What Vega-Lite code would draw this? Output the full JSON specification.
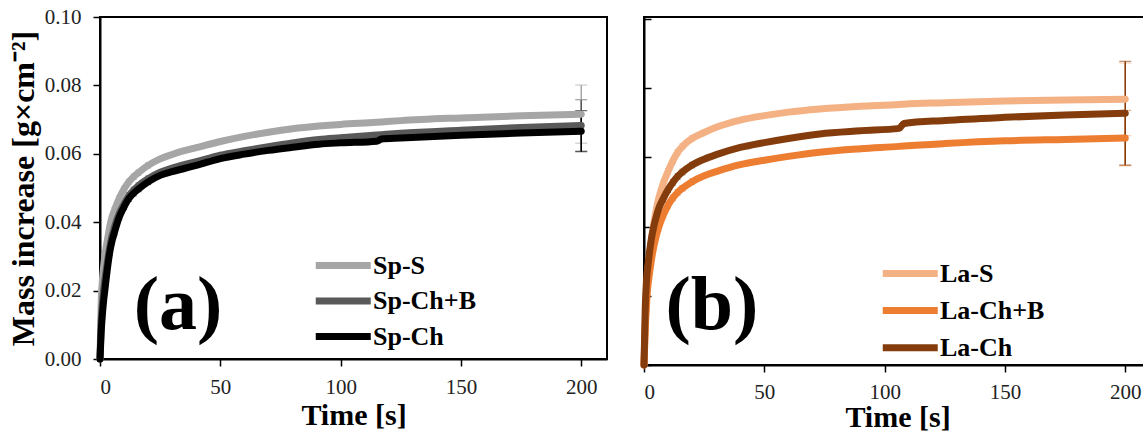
{
  "$schema": "https://vega.github.io/schema/vega-lite/v6.json",
  "padding": {"left": 6, "top": 5, "right": 0, "bottom": 0},
  "background": "white",
  "datasets": {
    "left": [
      {"s":"Sp-S","t":0,"v":0},{"s":"Sp-S","t":0.5,"v":0.017},{"s":"Sp-S","t":1,"v":0.023,"err":0.0008},{"s":"Sp-S","t":1.5,"v":0.027},{"s":"Sp-S","t":2,"v":0.030,"err":0.0008},{"s":"Sp-S","t":3,"v":0.0345,"err":0.0008},{"s":"Sp-S","t":4,"v":0.0385,"err":0.0008},{"s":"Sp-S","t":5,"v":0.0415,"err":0.0008},{"s":"Sp-S","t":6,"v":0.0435,"err":0.0008},{"s":"Sp-S","t":8,"v":0.047,"err":0.0008},{"s":"Sp-S","t":10,"v":0.0497,"err":0.0008},{"s":"Sp-S","t":12,"v":0.0518,"err":0.0008},{"s":"Sp-S","t":14,"v":0.0533,"err":0.0008},{"s":"Sp-S","t":16,"v":0.0545,"err":0.0008},{"s":"Sp-S","t":20,"v":0.0566,"err":0.0008},{"s":"Sp-S","t":25,"v":0.0585},{"s":"Sp-S","t":30,"v":0.0598},{"s":"Sp-S","t":35,"v":0.0609},{"s":"Sp-S","t":40,"v":0.0618},{"s":"Sp-S","t":50,"v":0.0636},{"s":"Sp-S","t":60,"v":0.0651},{"s":"Sp-S","t":70,"v":0.0663},{"s":"Sp-S","t":80,"v":0.0673},{"s":"Sp-S","t":91,"v":0.0681},{"s":"Sp-S","t":100,"v":0.0686},{"s":"Sp-S","t":115,"v":0.0692},{"s":"Sp-S","t":117,"v":0.0693},{"s":"Sp-S","t":125,"v":0.0697},{"s":"Sp-S","t":150,"v":0.0705},{"s":"Sp-S","t":175,"v":0.0711},{"s":"Sp-S","t":200,"v":0.0716,"err":0.0085},
      {"s":"Sp-Ch+B","t":0,"v":0},{"s":"Sp-Ch+B","t":0.5,"v":0.011},{"s":"Sp-Ch+B","t":1,"v":0.016,"err":0.0008},{"s":"Sp-Ch+B","t":1.5,"v":0.020},{"s":"Sp-Ch+B","t":2,"v":0.023,"err":0.0008},{"s":"Sp-Ch+B","t":3,"v":0.028,"err":0.0008},{"s":"Sp-Ch+B","t":4,"v":0.0325,"err":0.0008},{"s":"Sp-Ch+B","t":5,"v":0.036,"err":0.0008},{"s":"Sp-Ch+B","t":6,"v":0.0385,"err":0.0008},{"s":"Sp-Ch+B","t":8,"v":0.0425,"err":0.0008},{"s":"Sp-Ch+B","t":10,"v":0.0453,"err":0.0008},{"s":"Sp-Ch+B","t":12,"v":0.0478,"err":0.0008},{"s":"Sp-Ch+B","t":14,"v":0.0494,"err":0.0008},{"s":"Sp-Ch+B","t":16,"v":0.0507,"err":0.0008},{"s":"Sp-Ch+B","t":20,"v":0.0527,"err":0.0008},{"s":"Sp-Ch+B","t":25,"v":0.0546},{"s":"Sp-Ch+B","t":30,"v":0.0558},{"s":"Sp-Ch+B","t":35,"v":0.0568},{"s":"Sp-Ch+B","t":40,"v":0.0577},{"s":"Sp-Ch+B","t":50,"v":0.0596},{"s":"Sp-Ch+B","t":60,"v":0.0609},{"s":"Sp-Ch+B","t":70,"v":0.0621},{"s":"Sp-Ch+B","t":80,"v":0.0632},{"s":"Sp-Ch+B","t":91,"v":0.0642},{"s":"Sp-Ch+B","t":100,"v":0.0647},{"s":"Sp-Ch+B","t":115,"v":0.0655},{"s":"Sp-Ch+B","t":117,"v":0.0656},{"s":"Sp-Ch+B","t":125,"v":0.0660},{"s":"Sp-Ch+B","t":150,"v":0.0669},{"s":"Sp-Ch+B","t":175,"v":0.0677},{"s":"Sp-Ch+B","t":200,"v":0.0683,"err":0.0075},
      {"s":"Sp-Ch","t":0,"v":0},{"s":"Sp-Ch","t":0.5,"v":0.008},{"s":"Sp-Ch","t":1,"v":0.013,"err":0.0008},{"s":"Sp-Ch","t":1.5,"v":0.017},{"s":"Sp-Ch","t":2,"v":0.020,"err":0.0008},{"s":"Sp-Ch","t":3,"v":0.026,"err":0.0008},{"s":"Sp-Ch","t":4,"v":0.031,"err":0.0008},{"s":"Sp-Ch","t":5,"v":0.0345,"err":0.0008},{"s":"Sp-Ch","t":6,"v":0.037,"err":0.0008},{"s":"Sp-Ch","t":8,"v":0.0415,"err":0.0008},{"s":"Sp-Ch","t":10,"v":0.0445,"err":0.0008},{"s":"Sp-Ch","t":12,"v":0.0469,"err":0.0008},{"s":"Sp-Ch","t":14,"v":0.0485,"err":0.0008},{"s":"Sp-Ch","t":16,"v":0.0497,"err":0.0008},{"s":"Sp-Ch","t":20,"v":0.0518,"err":0.0008},{"s":"Sp-Ch","t":25,"v":0.0537},{"s":"Sp-Ch","t":30,"v":0.0548},{"s":"Sp-Ch","t":35,"v":0.0557},{"s":"Sp-Ch","t":40,"v":0.0566},{"s":"Sp-Ch","t":50,"v":0.0586},{"s":"Sp-Ch","t":60,"v":0.0599},{"s":"Sp-Ch","t":70,"v":0.0610},{"s":"Sp-Ch","t":80,"v":0.0619},{"s":"Sp-Ch","t":91,"v":0.0628},{"s":"Sp-Ch","t":100,"v":0.0632},{"s":"Sp-Ch","t":115,"v":0.0637},{"s":"Sp-Ch","t":117,"v":0.0643},{"s":"Sp-Ch","t":125,"v":0.0646},{"s":"Sp-Ch","t":150,"v":0.0654},{"s":"Sp-Ch","t":175,"v":0.0661},{"s":"Sp-Ch","t":200,"v":0.0666,"err":0.006}
    ],
    "right": [
      {"s":"La-S","t":0,"v":0},{"s":"La-S","t":0.5,"v":0.012},{"s":"La-S","t":1,"v":0.020,"err":0.0008},{"s":"La-S","t":1.5,"v":0.026},{"s":"La-S","t":2,"v":0.030,"err":0.0008},{"s":"La-S","t":3,"v":0.0356,"err":0.0008},{"s":"La-S","t":4,"v":0.0405,"err":0.0008},{"s":"La-S","t":5,"v":0.0445,"err":0.0008},{"s":"La-S","t":6,"v":0.0478,"err":0.0008},{"s":"La-S","t":8,"v":0.0525,"err":0.0008},{"s":"La-S","t":10,"v":0.056,"err":0.0008},{"s":"La-S","t":12,"v":0.059,"err":0.0008},{"s":"La-S","t":14,"v":0.0615,"err":0.0008},{"s":"La-S","t":16,"v":0.0632,"err":0.0008},{"s":"La-S","t":20,"v":0.0655,"err":0.0008},{"s":"La-S","t":25,"v":0.0672},{"s":"La-S","t":30,"v":0.0687},{"s":"La-S","t":40,"v":0.0708},{"s":"La-S","t":50,"v":0.0721},{"s":"La-S","t":60,"v":0.0731},{"s":"La-S","t":73,"v":0.074},{"s":"La-S","t":90,"v":0.0748},{"s":"La-S","t":106,"v":0.0753},{"s":"La-S","t":108,"v":0.0754},{"s":"La-S","t":125,"v":0.0758},{"s":"La-S","t":150,"v":0.0763},{"s":"La-S","t":175,"v":0.0766},{"s":"La-S","t":200,"v":0.0768,"err":0.0105},
      {"s":"La-Ch+B","t":0,"v":0},{"s":"La-Ch+B","t":0.5,"v":0.010},{"s":"La-Ch+B","t":1,"v":0.017,"err":0.0008},{"s":"La-Ch+B","t":1.5,"v":0.022},{"s":"La-Ch+B","t":2,"v":0.025,"err":0.0008},{"s":"La-Ch+B","t":3,"v":0.030,"err":0.0008},{"s":"La-Ch+B","t":4,"v":0.034,"err":0.0008},{"s":"La-Ch+B","t":5,"v":0.037,"err":0.0008},{"s":"La-Ch+B","t":6,"v":0.0395,"err":0.0008},{"s":"La-Ch+B","t":8,"v":0.0433,"err":0.0008},{"s":"La-Ch+B","t":10,"v":0.0462,"err":0.0008},{"s":"La-Ch+B","t":12,"v":0.0483,"err":0.0008},{"s":"La-Ch+B","t":14,"v":0.0499,"err":0.0008},{"s":"La-Ch+B","t":16,"v":0.0511,"err":0.0008},{"s":"La-Ch+B","t":20,"v":0.053,"err":0.0008},{"s":"La-Ch+B","t":25,"v":0.0547},{"s":"La-Ch+B","t":30,"v":0.0559},{"s":"La-Ch+B","t":40,"v":0.0579},{"s":"La-Ch+B","t":50,"v":0.0592},{"s":"La-Ch+B","t":60,"v":0.0603},{"s":"La-Ch+B","t":73,"v":0.0615},{"s":"La-Ch+B","t":90,"v":0.0625},{"s":"La-Ch+B","t":106,"v":0.0632},{"s":"La-Ch+B","t":108,"v":0.0633},{"s":"La-Ch+B","t":125,"v":0.064},{"s":"La-Ch+B","t":150,"v":0.0648},{"s":"La-Ch+B","t":175,"v":0.0652},{"s":"La-Ch+B","t":200,"v":0.0656,"err":0.008},
      {"s":"La-Ch","t":0,"v":0},{"s":"La-Ch","t":0.5,"v":0.016},{"s":"La-Ch","t":1,"v":0.024,"err":0.0008},{"s":"La-Ch","t":1.5,"v":0.028},{"s":"La-Ch","t":2,"v":0.031,"err":0.0008},{"s":"La-Ch","t":3,"v":0.0362,"err":0.0008},{"s":"La-Ch","t":4,"v":0.0398,"err":0.0008},{"s":"La-Ch","t":5,"v":0.0426,"err":0.0008},{"s":"La-Ch","t":6,"v":0.045,"err":0.0008},{"s":"La-Ch","t":8,"v":0.0481,"err":0.0008},{"s":"La-Ch","t":10,"v":0.0507,"err":0.0008},{"s":"La-Ch","t":12,"v":0.0528,"err":0.0008},{"s":"La-Ch","t":14,"v":0.0545,"err":0.0008},{"s":"La-Ch","t":16,"v":0.0558,"err":0.0008},{"s":"La-Ch","t":20,"v":0.0578,"err":0.0008},{"s":"La-Ch","t":25,"v":0.0595},{"s":"La-Ch","t":30,"v":0.0608},{"s":"La-Ch","t":40,"v":0.0629},{"s":"La-Ch","t":50,"v":0.0643},{"s":"La-Ch","t":60,"v":0.0655},{"s":"La-Ch","t":73,"v":0.0668},{"s":"La-Ch","t":90,"v":0.0677},{"s":"La-Ch","t":106,"v":0.0684},{"s":"La-Ch","t":108,"v":0.0698},{"s":"La-Ch","t":125,"v":0.0707},{"s":"La-Ch","t":150,"v":0.0716},{"s":"La-Ch","t":175,"v":0.0723},{"s":"La-Ch","t":200,"v":0.0728,"err":0.015}
    ]
  },
  "hconcat": [
    {
      "width": 507,
      "height": 342,
      "data": {"name": "left"},
      "encoding": {
        "x": {"field": "t", "type": "quantitative", "scale": {"domain": [0, 210.7], "nice": false},
              "axis": {"values": [0, 50, 100, 150, 200], "title": "Time [s]", "labelPadding": 10, "titlePadding": 3}},
        "y": {"field": "v", "type": "quantitative", "scale": {"domain": [0, 0.1], "nice": false},
              "axis": {"values": [0, 0.02, 0.04, 0.06, 0.08, 0.1], "format": ".2f", "title": "Mass increase [g×cm⁻²]", "labelPadding": 12, "titlePadding": 4}},
        "color": {"field": "s", "type": "nominal",
                  "scale": {"domain": ["Sp-S", "Sp-Ch+B", "Sp-Ch"], "range": ["#a6a6a6", "#595959", "#000000"]},
                  "legend": {"title": null, "orient": "none", "legendX": 212, "legendY": 231, "rowPadding": 3.5}}
      },
      "layer": [
        {"transform": [{"filter": "datum.err > 0 && datum.t < 150"}],
         "mark": {"type": "errorbar", "ticks": {"size": 6}, "rule": {"strokeWidth": 1.2}},
         "encoding": {"yError": {"field": "err"}}},
        {"transform": [{"filter": "datum.err > 0 && datum.t == 200"}],
         "mark": {"type": "errorbar", "ticks": {"size": 12, "strokeWidth": 1.5}, "rule": {"strokeWidth": 1.5}},
         "encoding": {"yError": {"field": "err"}}},
        {"mark": {"type": "line", "strokeWidth": 7, "strokeCap": "round", "strokeJoin": "round", "interpolate": "monotone"}},
        {"transform": [{"filter": "datum.s == 'Sp-S' && datum.t == 0"}],
         "mark": {"type": "text", "font": "Liberation Serif", "fontSize": 76, "fontWeight": "bold", "align": "center", "baseline": "alphabetic", "fill": "#000"},
         "encoding": {"x": {"datum": 32.4, "type": "quantitative"}, "y": {"datum": 0.0088, "type": "quantitative"}, "text": {"value": "(a)"}, "color": {"value": "#000"}}}
      ]
    },
    {
      "width": 507,
      "height": 348,
      "data": {"name": "right"},
      "encoding": {
        "x": {"field": "t", "type": "quantitative", "scale": {"domain": [0, 210.7], "nice": false},
              "axis": {"values": [0, 50, 100, 150, 200], "title": "Time [s]", "labelPadding": 9, "titlePadding": 0}},
        "y": {"field": "v", "type": "quantitative", "scale": {"domain": [0, 0.1006], "nice": false},
              "axis": {"values": [0, 0.02, 0.04, 0.06, 0.08, 0.1], "labels": false, "title": null, "tickSize": -7}},
        "color": {"field": "s", "type": "nominal",
                  "scale": {"domain": ["La-S", "La-Ch+B", "La-Ch"], "range": ["#f4b183", "#ed7d31", "#843c0c"]},
                  "legend": {"title": null, "orient": "none", "legendX": 235, "legendY": 239, "rowPadding": 5.1}}
      },
      "layer": [
        {"transform": [{"filter": "datum.err > 0 && datum.t < 150"}],
         "mark": {"type": "errorbar", "ticks": {"size": 6}, "rule": {"strokeWidth": 1.2}},
         "encoding": {"yError": {"field": "err"}}},
        {"transform": [{"filter": "datum.err > 0 && datum.t == 200"}],
         "mark": {"type": "errorbar", "ticks": {"size": 12, "strokeWidth": 1.5}, "rule": {"strokeWidth": 1.5}},
         "encoding": {"yError": {"field": "err"}}},
        {"mark": {"type": "line", "strokeWidth": 7, "strokeCap": "round", "strokeJoin": "round", "interpolate": "monotone"}},
        {"transform": [{"filter": "datum.s == 'La-S' && datum.t == 0"}],
         "mark": {"type": "text", "font": "Liberation Serif", "fontSize": 76, "fontWeight": "bold", "align": "center", "baseline": "alphabetic", "fill": "#000"},
         "encoding": {"x": {"datum": 28.2, "type": "quantitative"}, "y": {"datum": 0.0105, "type": "quantitative"}, "text": {"value": "(b)"}, "color": {"value": "#000"}}}
      ]
    }
  ],
  "spacing": 37,
  "bounds": "flush",
  "resolve": {"scale": {"color": "independent", "x": "independent", "y": "independent"}, "legend": {"color": "independent"}, "axis": {"x": "independent", "y": "independent"}},
  "config": {
    "view": {"stroke": "#000", "strokeWidth": 2},
    "axis": {"labelFont": "Liberation Serif", "labelFontSize": 21, "labelColor": "#222", "titleFont": "Liberation Serif", "titleFontSize": 30, "titleFontWeight": "bold", "titleColor": "#000", "domainColor": "#000", "domainWidth": 2, "tickColor": "#000", "tickWidth": 1.5, "tickSize": 7, "grid": false},
    "axisY": {"titleFontSize": 32},
    "legend": {"labelFont": "Liberation Serif", "labelFontSize": 26, "labelFontWeight": "bold", "labelColor": "#000", "symbolType": "M-1,0H3", "symbolStrokeWidth": 7, "symbolSize": 756, "symbolOpacity": 1, "padding": 0, "labelOffset": 26, "labelLimit": 300}
  }
}
